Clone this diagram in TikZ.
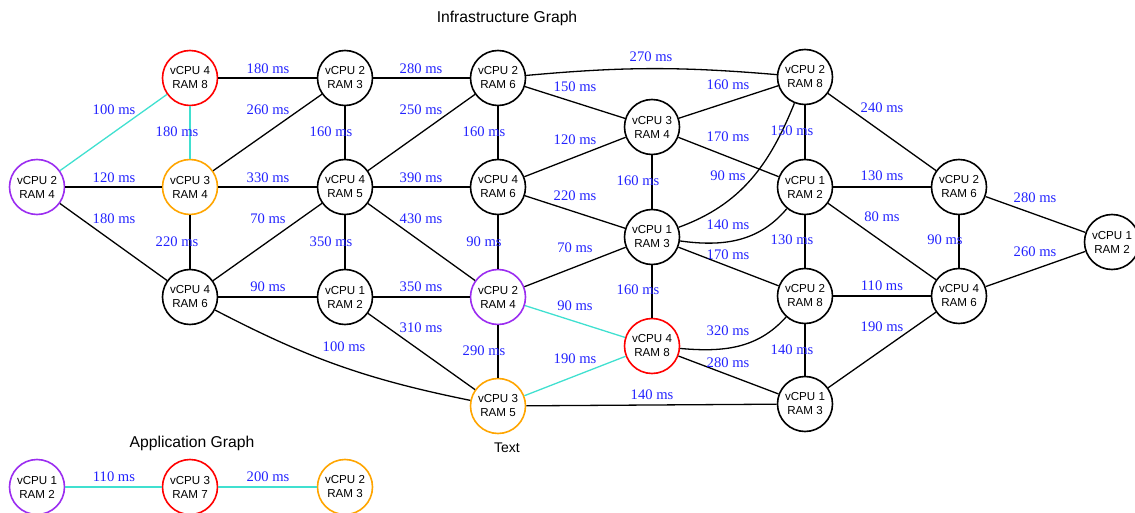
\documentclass[tikz,border=0pt]{standalone}
\usepackage{fontspec}
\setmainfont{Liberation Sans}
\newfontfamily\timesf{Liberation Serif}
\usepackage{tikz}
\usepackage{xcolor}

\definecolor{vmpurple}{RGB}{155,45,240}
\definecolor{vmorange}{RGB}{255,165,0}
\definecolor{vmred}{RGB}{255,0,0}
\definecolor{hotcyan}{RGB}{64,224,208}
\definecolor{latblue}{RGB}{35,35,255}

\tikzset{
  vm/.style={circle, draw, line width=1.6pt, minimum size=55pt, inner sep=0pt,
    align=center, font=\fontsize{11.6}{14}\selectfont},
  link/.style={line width=1.3pt},
  hot/.style={link, draw=hotcyan},
  lat/.style={text=latblue, inner sep=0pt, font=\timesf\fontsize{14.6}{16}\selectfont},
  title/.style={font=\fontsize{15.7}{18}\selectfont}
}

\begin{document}
\begin{tikzpicture}[x=1pt,y=1pt]
  \useasboundingbox (0,0) rectangle (1135,-513);

  % Titles
  \node[title] (infra) at (507,-18) {Infrastructure Graph};
  \node[title] (apptitle) at (192,-443) {Application Graph};

  % Infrastructure nodes, column by column
  \node[vm, draw=vmpurple] (a1) at (37,-187) {vCPU 2\\RAM 4};
  \node[vm, draw=vmred] (b1) at (190,-78) {vCPU 4\\RAM 8};
  \node[vm, draw=vmorange] (b2) at (190,-187) {vCPU 3\\RAM 4};
  \node[vm] (b3) at (190,-297) {vCPU 4\\RAM 6};
  \node[vm] (c1) at (345,-78) {vCPU 2\\RAM 3};
  \node[vm] (c2) at (345,-187) {vCPU 4\\RAM 5};
  \node[vm] (c3) at (345,-297) {vCPU 1\\RAM 2};
  \node[vm] (d1) at (498,-78) {vCPU 2\\RAM 6};
  \node[vm] (d2) at (498,-187) {vCPU 4\\RAM 6};
  \node[vm, draw=vmpurple] (d3) at (498,-297) {vCPU 2\\RAM 4};
  \node[vm, draw=vmorange] (d4) at (498,-406) {vCPU 3\\RAM 5};
  \node[vm] (e1) at (652,-127) {vCPU 3\\RAM 4};
  \node[vm] (e2) at (652,-237) {vCPU 1\\RAM 3};
  \node[vm, draw=vmred] (e3) at (652,-346) {vCPU 4\\RAM 8};
  \node[vm] (f1) at (805,-77) {vCPU 2\\RAM 8};
  \node[vm] (f2) at (805,-187) {vCPU 1\\RAM 2};
  \node[vm] (f3) at (805,-296) {vCPU 2\\RAM 8};
  \node[vm] (f4) at (805,-404) {vCPU 1\\RAM 3};
  \node[vm] (g1) at (959,-187) {vCPU 2\\RAM 6};
  \node[vm] (g2) at (959,-296) {vCPU 4\\RAM 6};
  \node[vm] (h1) at (1112,-242) {vCPU 1\\RAM 2};
  \node[font=\fontsize{14}{16}\selectfont] (txt) at (507,-448) {Text};

  % Application nodes
  \node[vm, draw=vmpurple] (app1) at (37,-487) {vCPU 1\\RAM 2};
  \node[vm, draw=vmred] (app2) at (190,-487) {vCPU 3\\RAM 7};
  \node[vm, draw=vmorange] (app3) at (345,-487) {vCPU 2\\RAM 3};

  % Infrastructure links with latencies
  \draw[hot] (a1) -- (b1) node[lat] at (114,-110) {100 ms};
  \draw[link] (a1) -- (b2) node[lat] at (114,-178) {120 ms};
  \draw[link] (a1) -- (b3) node[lat] at (114,-219) {180 ms};
  \draw[link] (b1) -- (c1) node[lat] at (268,-69) {180 ms};
  \draw[hot] (b1) -- (b2) node[lat] at (177,-132) {180 ms};
  \draw[link] (b2) -- (c1) node[lat] at (268,-110) {260 ms};
  \draw[link] (b2) -- (c2) node[lat] at (268,-178) {330 ms};
  \draw[link] (b2) -- (b3) node[lat] at (177,-242) {220 ms};
  \draw[link] (b3) -- (c2) node[lat] at (268,-219) {70 ms};
  \draw[link] (b3) -- (c3) node[lat] at (268,-287) {90 ms};
  \draw[link] (b3) to[bend right=8] (d4) node[lat] at (344,-347) {100 ms};
  \draw[link] (c1) -- (d1) node[lat] at (421,-69) {280 ms};
  \draw[link] (c1) -- (c2) node[lat] at (331,-132) {160 ms};
  \draw[link] (c2) -- (d1) node[lat] at (421,-110) {250 ms};
  \draw[link] (c2) -- (d2) node[lat] at (421,-178) {390 ms};
  \draw[link] (c2) -- (d3) node[lat] at (421,-219) {430 ms};
  \draw[link] (c2) -- (c3) node[lat] at (331,-242) {350 ms};
  \draw[link] (c3) -- (d3) node[lat] at (421,-287) {350 ms};
  \draw[link] (c3) -- (d4) node[lat] at (421,-328) {310 ms};
  \draw[link] (d1) to[bend left=5] (f1) node[lat] at (651,-57) {270 ms};
  \draw[link] (d1) -- (d2) node[lat] at (484,-132) {160 ms};
  \draw[link] (d1) -- (e1) node[lat] at (575,-87) {150 ms};
  \draw[link] (d2) -- (e1) node[lat] at (575,-140) {120 ms};
  \draw[link] (d2) -- (e2) node[lat] at (575,-196) {220 ms};
  \draw[link] (d2) -- (d3) node[lat] at (484,-242) {90 ms};
  \draw[link] (d3) -- (e2) node[lat] at (575,-248) {70 ms};
  \draw[hot] (d3) -- (e3) node[lat] at (575,-306) {90 ms};
  \draw[link] (d3) -- (d4) node[lat] at (484,-351) {290 ms};
  \draw[hot] (d4) -- (e3) node[lat] at (575,-359) {190 ms};
  \draw[link] (d4) -- (f4) node[lat] at (652,-395) {140 ms};
  \draw[link] (e1) -- (f1) node[lat] at (728,-85) {160 ms};
  \draw[link] (e1) -- (f2) node[lat] at (728,-137) {170 ms};
  \draw[link] (e1) -- (e2) node[lat] at (638,-181) {160 ms};
  \draw[link] (e2) to[out=20, in=-112] (f1) node[lat] at (728,-176) {90 ms};
  \draw[link] (e2) to[out=-8, in=-130] (f2) node[lat] at (728,-225) {140 ms};
  \draw[link] (e2) -- (f3) node[lat] at (728,-255) {170 ms};
  \draw[link] (e2) -- (e3) node[lat] at (638,-290) {160 ms};
  \draw[link] (e3) to[out=-5, in=-132] (f3) node[lat] at (728,-331) {320 ms};
  \draw[link] (e3) -- (f4) node[lat] at (728,-363) {280 ms};
  \draw[link] (f1) -- (f2) node[lat] at (792,-131) {150 ms};
  \draw[link] (f1) -- (g1) node[lat] at (882,-108) {240 ms};
  \draw[link] (f2) -- (g1) node[lat] at (882,-176) {130 ms};
  \draw[link] (f2) -- (g2) node[lat] at (882,-217) {80 ms};
  \draw[link] (f2) -- (f3) node[lat] at (792,-240) {130 ms};
  \draw[link] (f3) -- (g2) node[lat] at (882,-286) {110 ms};
  \draw[link] (f3) -- (f4) node[lat] at (792,-350) {140 ms};
  \draw[link] (f4) -- (g2) node[lat] at (882,-327) {190 ms};
  \draw[link] (g1) -- (g2) node[lat] at (945,-240) {90 ms};
  \draw[link] (g1) -- (h1) node[lat] at (1035,-198) {280 ms};
  \draw[link] (g2) -- (h1) node[lat] at (1035,-252) {260 ms};

  % Application links
  \draw[hot] (app1) -- (app2) node[lat] at (114,-477) {110 ms};
  \draw[hot] (app2) -- (app3) node[lat] at (268,-477) {200 ms};

\end{tikzpicture}
\end{document}
